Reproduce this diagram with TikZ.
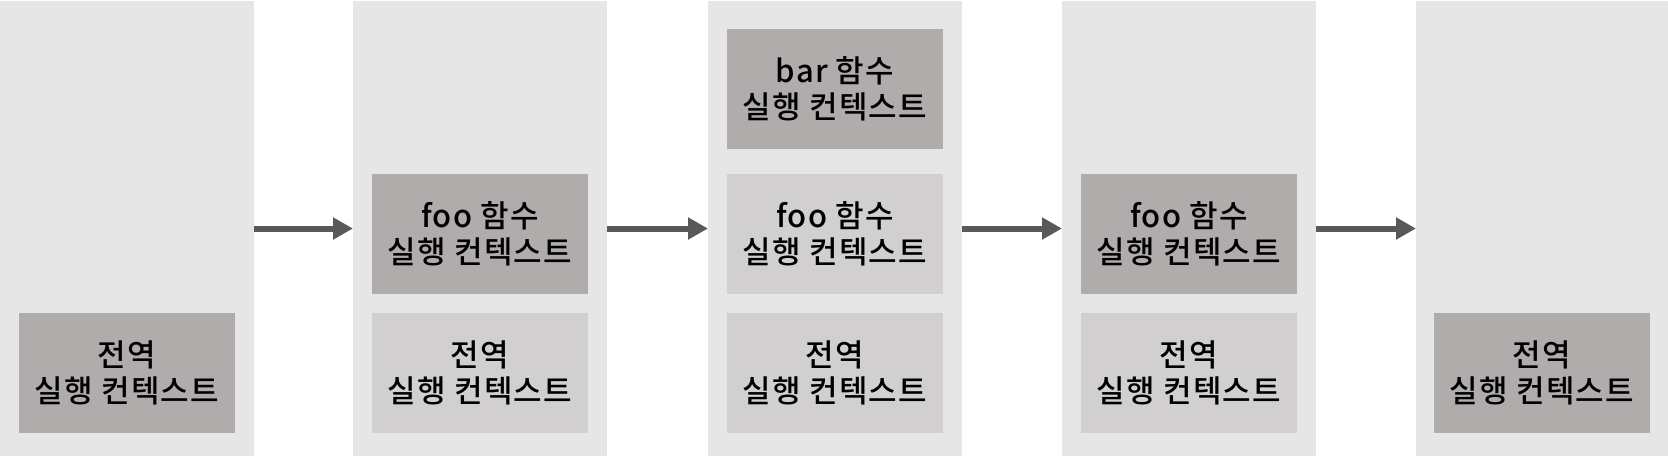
\documentclass[tikz,border=0pt]{standalone}
\usepackage{fontspec}
\newfontfamily\cjk{Noto Sans CJK KR}[UprightFont={* Medium}, LetterSpace=4]
\usetikzlibrary{arrows.meta}
\definecolor{panelc}{HTML}{E6E6E6}
\definecolor{darkc}{HTML}{AFACAB}
\definecolor{lightc}{HTML}{D1CFCF}
\definecolor{arrc}{HTML}{595959}
\tikzset{
  panel/.style={fill=panelc, draw=none, anchor=north west, minimum width=254pt, minimum height=455pt, inner sep=0pt, outer sep=0pt},
  ctx/.style={draw=none, anchor=north west, minimum width=216pt, minimum height=120pt, inner sep=0pt, outer sep=0pt, align=center, font=\cjk\fontsize{31}{36}\selectfont, text=black},
  dark/.style={ctx, fill=darkc},
  light/.style={ctx, fill=lightc},
  flow/.style={draw=arrc, line width=6pt, -{Triangle[length=20pt,width=21pt]}}
}
\begin{document}
\begin{tikzpicture}[x=1pt,y=-1pt]
\useasboundingbox (0,0) rectangle (1668,456);
\node[panel] (p1) at (0,1) {};
\node[panel] (p2) at (353,1) {};
\node[panel] (p3) at (708,1) {};
\node[panel] (p4) at (1062,1) {};
\node[panel] (p5) at (1416,1) {};
% panel 1
\node[dark] (g1) at (19,313) {전역\\실행 컨텍스트};
% panel 2
\node[dark] (f2) at (372,174) {foo 함수\\실행 컨텍스트};
\node[light] (g2) at (372,313) {전역\\실행 컨텍스트};
% panel 3
\node[dark] (b3) at (727,29) {bar 함수\\실행 컨텍스트};
\node[light] (f3) at (727,174) {foo 함수\\실행 컨텍스트};
\node[light] (g3) at (727,313) {전역\\실행 컨텍스트};
% panel 4
\node[dark] (f4) at (1081,174) {foo 함수\\실행 컨텍스트};
\node[light] (g4) at (1081,313) {전역\\실행 컨텍스트};
% panel 5
\node[dark] (g5) at (1434,313) {전역\\실행 컨텍스트};
% arrows
\draw[flow] (p1.east) -- (p2.west);
\draw[flow] (p2.east) -- (p3.west);
\draw[flow] (p3.east) -- (p4.west);
\draw[flow] (p4.east) -- (p5.west);
\end{tikzpicture}
\end{document}
